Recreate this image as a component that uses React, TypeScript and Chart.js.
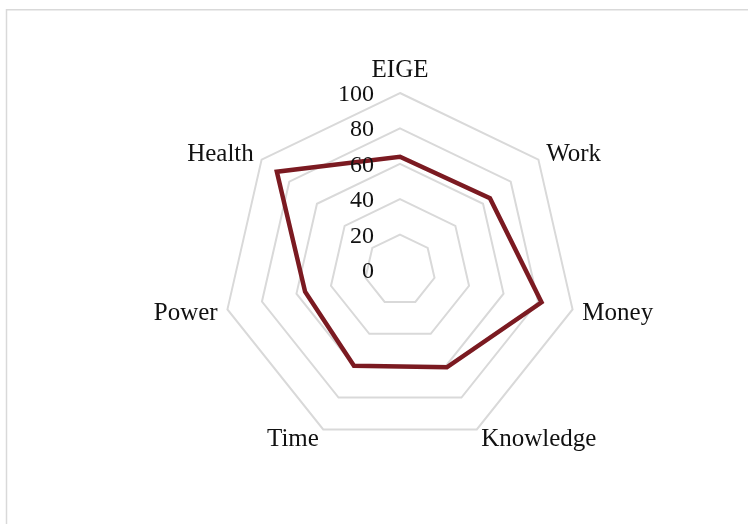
import React, { useEffect, useRef } from "react";
import { Chart, registerables } from "chart.js";

Chart.register(...registerables);

const categories = ["EIGE", "Work", "Money", "Knowledge", "Time", "Power", "Health"];
const scores = [64, 65, 82, 61, 60, 55, 89];
const tickValues = [0, 20, 40, 60, 80, 100];

const LABEL_FONT = "25px 'Liberation Serif', 'Times New Roman', serif";
const TICK_FONT = "24px 'Liberation Serif', 'Times New Roman', serif";
const TEXT = "#111111";
const GRID = "#d9d9d9";

const framePlugin = {
  id: "frame",
  beforeDraw(chart: any) {
    const ctx = chart.ctx;
    ctx.save();
    ctx.strokeStyle = GRID;
    ctx.lineWidth = 1.5;
    ctx.strokeRect(6.5, 9.75, 900, 700);
    ctx.restore();
  },
};

const labelsPlugin = {
  id: "customLabels",
  afterDatasetsDraw(chart: any) {
    const scale = chart.scales.r;
    const ctx = chart.ctx;
    ctx.save();
    ctx.fillStyle = TEXT;
    ctx.textBaseline = "alphabetic";
    // tick labels
    ctx.font = TICK_FONT;
    ctx.textAlign = "right";
    tickValues.forEach((v) => {
      const d = scale.getDistanceFromCenterForValue(v);
      ctx.fillText(String(v), scale.xCenter - 26, scale.yCenter - d + 8);
    });
    // point labels
    ctx.font = LABEL_FONT;
    categories.forEach((c, i) => {
      const p = scale.getPointPosition(i, scale.drawingArea + 10);
      const dx = p.x - scale.xCenter;
      let y = p.y + 8;
      if (Math.abs(dx) < 5) {
        ctx.textAlign = "center";
        y = p.y - 6;
      } else if (dx > 0) {
        ctx.textAlign = "left";
      } else {
        ctx.textAlign = "right";
      }
      ctx.fillText(c, p.x, y);
    });
    ctx.restore();
  },
};

export default function App() {
  const ref = useRef<HTMLCanvasElement>(null);
  useEffect(() => {
    if (!ref.current) return;
    const chart = new Chart(ref.current, {
      type: "radar",
      data: {
        labels: categories,
        datasets: [
          {
            data: scores,
            borderColor: "#7b1a21",
            borderWidth: 4.5,
            pointRadius: 0,
            pointHoverRadius: 0,
            fill: false,
            tension: 0,
          },
        ],
      },
      options: {
        responsive: false,
        animation: false,
        devicePixelRatio: 1,
        layout: { padding: { left: 223, right: 170, top: 93, bottom: 76 } },
        plugins: { legend: { display: false }, tooltip: { enabled: false } },
        scales: {
          r: {
            min: 0,
            max: 100,
            ticks: { stepSize: 20, display: false },
            grid: { color: GRID, lineWidth: 2 },
            angleLines: { display: false },
            pointLabels: { display: false },
          },
        },
      },
      plugins: [framePlugin, labelsPlugin],
    });
    return () => chart.destroy();
  }, []);
  return (
    <canvas
      ref={ref}
      width={748}
      height={524}
      style={{ position: "absolute", left: 0, top: 0, width: 748, height: 524 }}
    />
  );
}
